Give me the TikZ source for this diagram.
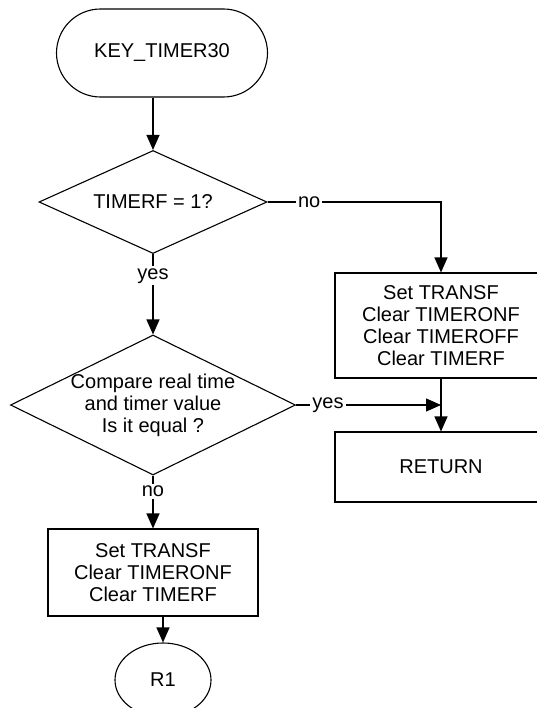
\documentclass[tikz,border=0pt]{standalone}
\usepackage{fontspec}
\setmainfont{Liberation Sans}
\usepackage{tikz}
\usetikzlibrary{positioning,arrows.meta,shapes.geometric}
\tikzset{
	>={Triangle[length=15bp,width=13bp]},
	terminal/.style={
		rectangle,
		rounded corners=44bp,
		draw, line width=1.1bp,
		minimum width=211bp,
		minimum height=88bp
	},
	decision/.style={
		diamond,
		aspect=2,
		draw, line width=1.1bp,
		inner sep=-4pt,
		align=center
	},
	process/.style={
		rectangle,
		draw, line width=1.1bp,
		minimum width=212bp,
		align=center
	},
	connector/.style={
		ellipse,
		draw, line width=1.1bp,
		minimum width=96bp,
		minimum height=74bp
	},
	line/.style={draw, line width=1.1bp, ->},
	lab/.style={fill=white, inner sep=2bp},
	font={\fontsize{20bp}{22bp}\selectfont},
}
\begin{document}
\begin{tikzpicture}[x=1bp,y=-1bp]
	\useasboundingbox (0,0) rectangle (537,708);
	\node[terminal] (start) at (162,53) {KEY\_TIMER30};
	\node[decision, aspect=2.2, minimum width=228bp, minimum height=103bp] (tmrf) at (153,202) {TIMERF = 1?};
	\node[process, minimum height=105bp] (setoff) at (441,325.5) {Set TRANSF\\Clear TIMERONF\\Clear TIMEROFF\\Clear TIMERF};
	\node[decision, aspect=2.04, minimum width=285bp, minimum height=140bp] (cmp) at (153,405) {Compare real time\\and timer value\\Is it equal ?};
	\node[process, minimum height=70bp] (ret) at (441,467) {RETURN};
	\node[process, minimum width=210bp, minimum height=87bp] (clr) at (153,572.5) {Set TRANSF\\Clear TIMERONF\\Clear TIMERF};
	\node[connector] (r1) at (163,680) {R1};
	\coordinate (merge) at (setoff.south |- cmp.east);
	% connectors
	\path[line] (start.south -| tmrf.north) -- (tmrf.north);
	\path[line] (tmrf.east) -- node[lab, pos=.24] {no} (tmrf.east -| setoff.north) -- (setoff.north);
	\path[line] (tmrf.south) -- node[lab, pos=.27] {yes} (cmp.north);
	\path[line] (cmp.east) -- node[lab, pos=.22] {yes} (merge);
	\path[line] (setoff.south) -- (ret.north);
	\path[line] (cmp.south) -- node[lab, pos=.3] {no} (clr.north);
	\path[line] (clr.south -| r1.north) -- (r1.north);
\end{tikzpicture}
\end{document}
